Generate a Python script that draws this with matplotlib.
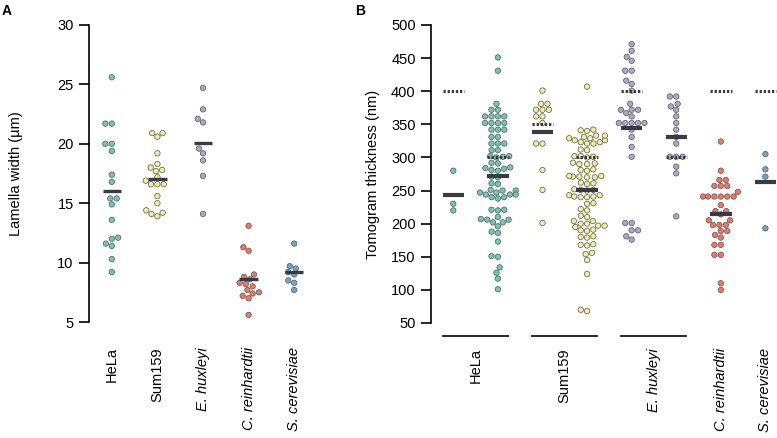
import numpy as np
import pandas as pd
import seaborn as sns
import matplotlib.pyplot as plt
from matplotlib.transforms import blended_transform_factory

plt.rcParams['font.family'] = ['Liberation Sans', 'DejaVu Sans']
plt.rcParams['font.size'] = 10.5

# Arten und Farben
arten = ['HeLa', 'Sum159', 'E. huxleyi', 'C. reinhardtii', 'S. cerevisiae']
farben = ['#72c7b2', '#f2ee9d', '#aaa8cc', '#f07563', '#6fa6cc']
kursiv = ['E. huxleyi', 'C. reinhardtii', 'S. cerevisiae']

# Panel A: Lamellenbreite (µm)
breite_hela = [25.6, 21.7, 21.7, 20.0, 20.0, 19.4, 17.4, 16.8, 15.4, 15.4, 14.9,
               13.6, 12.1, 12.0, 11.6, 11.4, 10.3, 9.2]
breite_sum159 = [20.9, 20.9, 20.6, 19.2, 18.3, 18.0, 17.8, 17.7, 17.2, 16.9, 16.6,
                 16.6, 16.6, 15.6, 15.0, 14.4, 14.2, 14.1, 13.9]
breite_ehux = [24.7, 22.9, 22.1, 21.8, 19.6, 19.2, 18.6, 17.3, 14.1]
breite_crein = [13.1, 11.3, 11.0, 9.0, 8.8, 8.6, 8.3, 8.2, 8.0, 7.7, 7.5, 7.4, 7.2, 7.0, 5.6]
breite_scer = [11.6, 9.7, 9.5, 9.2, 9.0, 8.5, 8.3, 7.7]
breiten = [breite_hela, breite_sum159, breite_ehux, breite_crein, breite_scer]

# Panel B: Tomogramdicke (nm), Gruppen nach Zieldicke
dicke_hela_400 = [280, 230, 220]
dicke_hela_300 = [451, 431, 381, 372, 372, 362, 362, 362, 362, 352, 352, 352, 352,
                  342, 342, 342, 331, 331, 321, 321, 321, 311, 311, 302, 302, 301,
                  300, 292, 291, 285, 284, 283, 281, 280, 271, 270, 261, 260, 251,
                  250, 250, 247, 244, 240, 238, 240, 244, 244, 247, 221, 221, 220,
                  210, 206, 202, 196, 202, 206, 207, 188, 186, 173, 151, 150, 134,
                  126, 117, 101]
dicke_sum_350 = [401, 381, 381, 372, 372, 372, 362, 362, 352, 321, 321, 281, 251, 201]
dicke_sum_300 = [407, 342, 341, 340, 333, 331, 329, 326, 323, 321, 321, 323, 326,
                 329, 333, 312, 311, 302, 302, 301, 300, 292, 291, 290, 290, 282,
                 281, 280, 272, 271, 270, 270, 271, 272, 262, 261, 260, 252, 251,
                 251, 250, 243, 241, 240, 240, 241, 243, 231, 230, 222, 220, 212,
                 210, 204, 200, 197, 195, 197, 200, 204, 191, 190, 189, 181, 180,
                 179, 169, 168, 167, 156, 154, 145, 124, 70, 68]
dicke_ehux_400 = [471, 461, 452, 446, 431, 431, 416, 411, 401, 381, 372, 372, 372,
                  367, 362, 352, 352, 352, 352, 352, 342, 331, 316, 301, 201, 201,
                  190, 190, 181, 176]
dicke_ehux_300 = [392, 392, 381, 377, 372, 362, 352, 342, 331, 321, 301, 301, 301,
                  286, 276, 211]
dicke_crein = [324, 280, 266, 266, 257, 257, 257, 248, 241, 241, 241, 241, 241, 241,
               228, 219, 219, 214, 205, 205, 198, 198, 198, 189, 189, 183, 179, 168,
               168, 153, 153, 110, 100]
dicke_scer = [305, 282, 271, 193]
dicken = [dicke_hela_400, dicke_hela_300, dicke_sum_350, dicke_sum_300,
          dicke_ehux_400, dicke_ehux_300, dicke_crein, dicke_scer]
ziel_dicke = [400, 300, 350, 300, 400, 300, 400, 400]
gruppen_art = [0, 0, 1, 1, 2, 2, 3, 4]

# Beschriftung Panel B: Position der Artnamen
b_label_pos = [0.5, 2.5, 4.5, 6, 7]
klammern = [0.5, 2.5, 4.5]

balken_farbe = '#3a3a45'

def stil(ax):
    for s in ['top', 'right', 'bottom']:
        ax.spines[s].set_visible(False)
    ax.spines['left'].set_linewidth(1.2)
    ax.tick_params(axis='y', length=7, width=1.2, pad=4, labelsize=10.5)
    ax.tick_params(axis='x', length=0, pad=18, labelsize=10.5)

fig = plt.figure(figsize=(7.77, 4.38), dpi=100)
ax_a = fig.add_axes([89 / 777, 1 - 322 / 438, 228 / 777, 297 / 438])
ax_b = fig.add_axes([431 / 777, 1 - 323 / 438, 346 / 777, 298 / 438])

# --- Panel A ---
df_a = pd.DataFrame({
    'gruppe': [str(i) for i, w in enumerate(breiten) for _ in w],
    'wert': [v for w in breiten for v in w],
})
pal_a = {str(i): farben[i] for i in range(len(arten))}
sns.swarmplot(data=df_a, x='gruppe', y='wert', hue='gruppe', order=[str(i) for i in range(5)],
              palette=pal_a, size=3.9, linewidth=0.5, edgecolor='#555555',
              legend=False, ax=ax_a, zorder=2)
for i, w in enumerate(breiten):
    ax_a.hlines(np.mean(w), i - 0.2, i + 0.2, color=balken_farbe, lw=2.4, zorder=4)
ax_a.set_xlim(-0.5, 4.5)
ax_a.set_ylim(5, 30)
ax_a.set_yticks([5, 10, 15, 20, 25, 30])
ax_a.set_xticks(range(5))
ax_a.set_xticklabels(arten, rotation=90, va='top')
ax_a.set_xlabel('')
ax_a.set_ylabel('Lamella width (µm)', fontsize=10.5)
ax_a.yaxis.set_label_coords(-0.29, 0.5)
stil(ax_a)

# --- Panel B ---
df_b = pd.DataFrame({
    'gruppe': [str(i) for i, d in enumerate(dicken) for _ in d],
    'wert': [v for d in dicken for v in d],
})
pal_b = {str(i): farben[gruppen_art[i]] for i in range(len(dicken))}
sns.swarmplot(data=df_b, x='gruppe', y='wert', hue='gruppe', order=[str(i) for i in range(8)],
              palette=pal_b, size=3.9, linewidth=0.5, edgecolor='#555555',
              legend=False, ax=ax_b, zorder=2)
for i, d in enumerate(dicken):
    ax_b.hlines(ziel_dicke[i], i - 0.24, i + 0.24, color=balken_farbe, lw=2.2,
                linestyles=(0, (0.75, 0.6)), zorder=4)
    ax_b.hlines(np.mean(d), i - 0.24, i + 0.24, color=balken_farbe, lw=3.0, zorder=4)
ax_b.set_xlim(-0.5, 7.26)
ax_b.set_ylim(50, 500)
ax_b.set_yticks(range(50, 501, 50))
ax_b.set_xticks(b_label_pos)
ax_b.set_xticklabels(arten, rotation=90, va='top')
ax_b.set_xlabel('')
ax_b.set_ylabel('Tomogram thickness (nm)', fontsize=10.5)
ax_b.yaxis.set_label_coords(-0.148, 0.5)
stil(ax_b)

trans = blended_transform_factory(ax_b.transData, ax_b.transAxes)
for m in klammern:
    ax_b.plot([m - 0.73, m + 0.73], [-0.044, -0.044], color='black', lw=1.2,
              transform=trans, clip_on=False)

for ax in (ax_a, ax_b):
    for lbl in ax.get_xticklabels():
        if lbl.get_text() in kursiv:
            lbl.set_style('italic')

fig.text(2 / 777, 1 - 4 / 438, 'A', fontsize=10, fontweight='bold', va='top')
fig.text(355 / 777, 1 - 4 / 438, 'B', fontsize=10, fontweight='bold', va='top')

fig.savefig('out.png', dpi=100)
